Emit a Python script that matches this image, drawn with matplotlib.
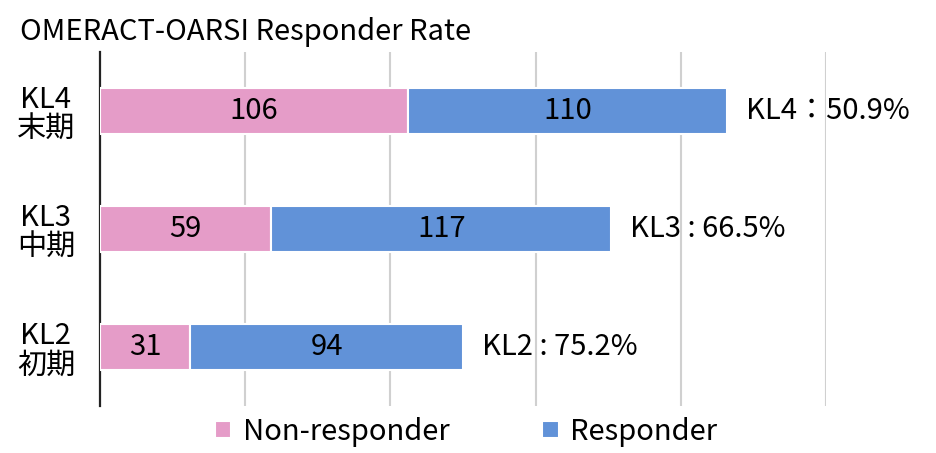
import matplotlib.pyplot as plt
import numpy as np

plt.rcParams['font.family'] = ['Noto Sans CJK JP', 'DejaVu Sans']

categories = ['KL2\n初期', 'KL3\n中期', 'KL4\n末期']
non_responder = [31, 59, 106]
responder = [94, 117, 110]
rate_labels = ['KL2 : 75.2%', 'KL3 : 66.5%', 'KL4：50.9%']

pink = '#E59CC8'
blue = '#6192D8'
fs = 21

fig = plt.figure(figsize=(9.36, 4.53), dpi=100)
ax = fig.add_axes([100 / 936, 47 / 453, 726 / 936, 354 / 453])

y = np.arange(len(categories))
ax.barh(y, non_responder, height=0.39, color=pink, edgecolor='white',
        linewidth=1.5, label='Non-responder', zorder=3)
ax.barh(y, responder, left=non_responder, height=0.39, color=blue,
        edgecolor='white', linewidth=1.5, label='Responder', zorder=3)

for i in range(len(categories)):
    ax.text(non_responder[i] / 2, y[i], str(non_responder[i]),
            ha='center', va='center', fontsize=fs, zorder=4)
    ax.text(non_responder[i] + responder[i] / 2, y[i], str(responder[i]),
            ha='center', va='center', fontsize=fs, zorder=4)
    ax.text(non_responder[i] + responder[i] + 6.5, y[i], rate_labels[i],
            ha='left', va='center', fontsize=fs, zorder=4)

ax.set_xlim(0, 250)
ax.set_ylim(-0.5, 2.5)
ax.set_xticks([50, 100, 150, 200, 250])
ax.xaxis.grid(True, color='#D0D0D0', linewidth=1.5, zorder=0)
ax.tick_params(axis='x', length=0, labelbottom=False)
ax.set_yticks(y)
ax.set_yticklabels(categories, fontsize=fs, linespacing=1.0,
                   multialignment='center')
ax.tick_params(axis='y', length=0, pad=18)
for s in ['top', 'right', 'bottom']:
    ax.spines[s].set_visible(False)
ax.spines['left'].set_linewidth(1.6)
ax.spines['left'].set_color('#222222')

fig.text(20 / 936, 1 - 32 / 453, 'OMERACT-OARSI Responder Rate',
         ha='left', va='center', fontsize=fs)

fig.legend(loc='center', bbox_to_anchor=(466 / 936, 1 - 432 / 453), ncol=2,
           frameon=False, fontsize=fs, handlelength=0.55, handleheight=0.55,
           handletextpad=0.4, columnspacing=3.2)

fig.savefig('out.png', dpi=100)
